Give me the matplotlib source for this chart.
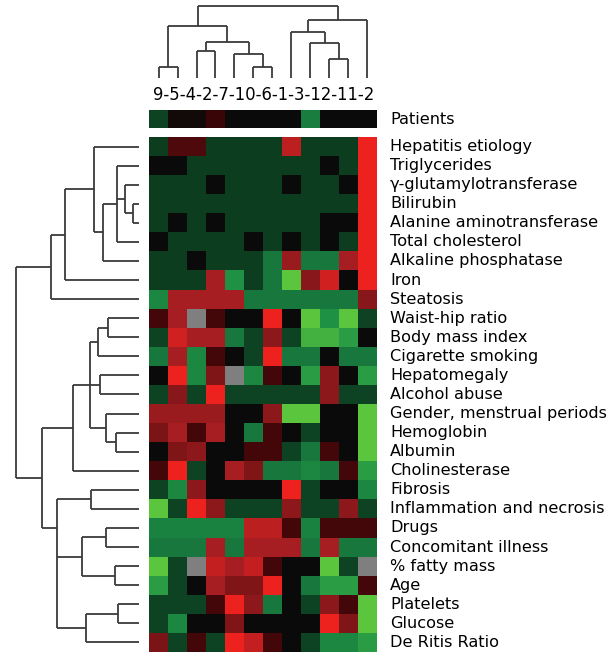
import numpy as np
import matplotlib.pyplot as plt
from matplotlib.colors import LinearSegmentedColormap

# patients (column order from the clustering)
patients = ['9', '5', '4', '2', '7', '10', '6', '1', '3', '12', '11', '2']

features = ['Hepatitis etiology', 'Triglycerides', '\u03b3-glutamylotransferase', 'Bilirubin',
            'Alanine aminotransferase', 'Total cholesterol', 'Alkaline phosphatase', 'Iron',
            'Steatosis', 'Waist-hip ratio', 'Body mass index', 'Cigarette smoking',
            'Hepatomegaly', 'Alcohol abuse', 'Gender, menstrual periods', 'Hemoglobin',
            'Albumin', 'Cholinesterase', 'Fibrosis', 'Inflammation and necrosis', 'Drugs',
            'Concomitant illness', '% fatty mass', 'Age', 'Platelets', 'Glucose', 'De Ritis Ratio']

nan = np.nan
patient_row = [-0.7, 0.1, 0.1, 0.6, 0, 0, 0, 0, -1.6, 0, 0, 0]

values = [
    [-0.6, 0.8, 0.8, -0.6, -0.6, -0.6, -0.6, 2.3, -0.6, -0.6, -0.6, 3],
    [0, 0, -0.6, -0.6, -0.6, -0.6, -0.6, -0.6, -0.6, 0, -0.6, 3],
    [-0.6, -0.6, -0.6, 0, -0.6, -0.6, -0.6, 0, -0.6, -0.6, 0, 3],
    [-0.6, -0.6, -0.6, -0.6, -0.6, -0.6, -0.6, -0.6, -0.6, -0.6, -0.6, 3],
    [-0.6, 0, -0.6, 0, -0.6, -0.6, -0.6, -0.6, -0.6, 0, 0, 3],
    [0, -0.6, -0.6, -0.6, -0.6, 0, -0.6, 0, -0.6, 0, -0.6, 3],
    [-0.6, -0.6, 0, -0.6, -0.6, -0.6, -1.5, 1.8, -1.5, -1.5, 2, 3],
    [-0.6, -0.6, -0.6, 2, -2, -0.6, -1.5, -3, 1.5, 2.6, 0, 3],
    [-1.8, 2, 2, 2, 2, -1.5, -1.5, -1.5, -1.5, -1.5, -1.5, 1.5],
    [0.7, 2, nan, 0.7, 0, 0, 3, 0, -3, -2, -3, -0.7],
    [-0.7, 2.6, 2, 2, -1.5, -0.7, 1.6, -0.7, -2.6, -2.6, -2.2, 0],
    [-1.5, 2, -1.8, 0.7, 0, -0.7, 3, -1.5, -1.5, 0, -1.5, -1.5],
    [0, 3, -1.8, 1.4, nan, -1.8, 0.7, 0, -2.2, 1.6, 0, -2.2],
    [-0.7, 1.5, -0.7, 3, -0.7, -0.7, -0.7, -0.7, -0.7, 1.6, -0.7, -0.7],
    [1.8, 1.8, 1.8, 1.8, 0, 0, 1.6, -3, -3, 0, 0, -3],
    [1.3, 2, 0.7, 2, 0, -1.5, 0.7, 0, -0.7, 0, 0, -3],
    [0, 1.4, 1.6, 0, 0, 0.7, 0.7, -0.7, -1.5, 0.7, 0, -3],
    [0.7, 3, -0.7, 0, 2, 1.4, -1.5, -1.5, -1.8, -1.5, 0.7, -2.2],
    [-0.7, -1.8, 1.6, 0, 0, 0, 0, 3, -0.7, 0, 0, -1.8],
    [-3, -0.7, 3, 1.6, -0.7, -0.7, -0.7, 1.6, -0.7, -0.7, 1.6, -0.7],
    [-1.7, -1.7, -1.7, -1.7, -1.7, 2.3, 2.3, 0.7, -1.7, 0.7, 0.7, 0.7],
    [-1.5, -1.5, -1.5, 2, -1.5, 2, 2, 2, -1.5, 2, -1.5, -1.5],
    [-3, -0.7, nan, 2.4, 2, 2.4, 0.7, 0, 0, -3, -0.7, nan],
    [-2.2, -0.7, 0, 2, 1.4, 1.4, 3, 0, -1.5, -2.2, -2.2, 0.7],
    [-0.7, -0.7, -0.7, 0.7, 3, 1.6, -1.5, 0, -0.7, 1.6, 0.7, -3],
    [-0.7, -1.8, 0, 0, 1.4, 0, 0, 0, 0, 3, 1.4, -3],
    [1.3, -0.7, 0.7, -0.7, 3, 2.4, 0.7, 0, -0.7, -1.8, -1.8, -2.2],
]

# dendrograms: (merge height, [children]); ints are leaf positions
row_tree = (123.3, [
    (88.3, [(74, [(45, [0, (35.7, [(22.3, [1, 5, (14, [2, (5.7, [3, 4])])]), 6])]), 7]), 8]),
    (96.7, [(65.7, [(49, [(41.3, [(30.7, [9, 10]), 11]), (33, [14, (23, [15, 16])]), (39, [12, 13])]), 17]),
            (82.3, [(48, [18, 19]), (57.3, [(33.3, [20, 21]), (23.7, [22, 23])]),
                    (53, [(21.3, [24, 25]), 26])])]),
])
col_tree = (72.3, [
    (52, [(11.3, [0, 1]), (36.3, [(27, [2, 3]), (23.7, [4, (11, [5, 6])])])]),
    (58, [(45.7, [7, (34.7, [8, (18.7, [9, 10])])]), 11]),
])

cmap = LinearSegmentedColormap.from_list('rg', [
    (0.0, (0.36, 0.78, 0.24)),
    (1 / 6, (0.12, 0.57, 0.27)),
    (1.7 / 6, (0.08, 0.43, 0.23)),
    (2.4 / 6, (0.05, 0.24, 0.12)),
    (0.5, (0.04, 0.04, 0.04)),
    (3.6 / 6, (0.23, 0.02, 0.03)),
    (4.3 / 6, (0.48, 0.08, 0.09)),
    (5 / 6, (0.65, 0.12, 0.13)),
    (1.0, (0.93, 0.13, 0.12)),
])
cmap.set_bad('#7f7f7f')

W, H = 613, 652
fig = plt.figure(figsize=(W / 100, H / 100), dpi=100)


def px_axes(x0, y0, x1, y1):
    return fig.add_axes([x0 / W, 1 - y1 / H, (x1 - x0) / W, (y1 - y0) / H])


def draw_tree(ax, node, vertical):
    if isinstance(node, int):
        return node + 0.5, 0.0
    h, kids = node
    pts = [draw_tree(ax, k, vertical) for k in kids]
    ps = [p for p, _ in pts]
    for p, ch in pts:
        if vertical:
            ax.plot([p, p], [ch, h], color='#3a3a3a', lw=1.3, solid_capstyle='butt')
        else:
            ax.plot([ch, h], [p, p], color='#3a3a3a', lw=1.3, solid_capstyle='butt')
    if vertical:
        ax.plot([min(ps), max(ps)], [h, h], color='#3a3a3a', lw=1.3, solid_capstyle='butt')
    else:
        ax.plot([h, h], [min(ps), max(ps)], color='#3a3a3a', lw=1.3, solid_capstyle='butt')
    return (ps[0] + ps[1]) / 2, h


data = np.array(values, dtype=float)
nrows, ncols = data.shape

# main heatmap
ax = px_axes(149, 137, 377, 137 + 19.07 * nrows)
ax.imshow(np.ma.masked_invalid(data), cmap=cmap, vmin=-3, vmax=3, aspect='auto',
          interpolation='nearest', extent=(0, ncols, nrows, 0))
ax.set_xlim(0, ncols)
ax.set_ylim(nrows, 0)
ax.axis('off')
for i, name in enumerate(features):
    ax.text(ncols + 0.68, i + 0.5, name, va='center', ha='left', fontsize=11.6,
            clip_on=False)

# patients strip
axp = px_axes(149, 110, 377, 128)
axp.imshow(np.array([patient_row]), cmap=cmap, vmin=-3, vmax=3, aspect='auto',
           interpolation='nearest', extent=(0, ncols, 1, 0))
axp.axis('off')
axp.text(ncols + 0.68, 0.5, 'Patients', va='center', ha='left', fontsize=11.6, clip_on=False)

# column dendrogram
axc = px_axes(149, 5, 377, 78)
draw_tree(axc, col_tree, True)
axc.set_xlim(0, ncols)
axc.set_ylim(0, 73)
axc.axis('off')
fig.text(264 / W, 1 - 95 / H, '-'.join(patients), ha='center', va='center', fontsize=11.9)

# row dendrogram
axr = px_axes(0, 137, 139, 137 + 19.07 * nrows)
draw_tree(axr, row_tree, False)
axr.set_xlim(139, 0)
axr.set_ylim(nrows, 0)
axr.axis('off')

fig.savefig('out.png', dpi=100)
